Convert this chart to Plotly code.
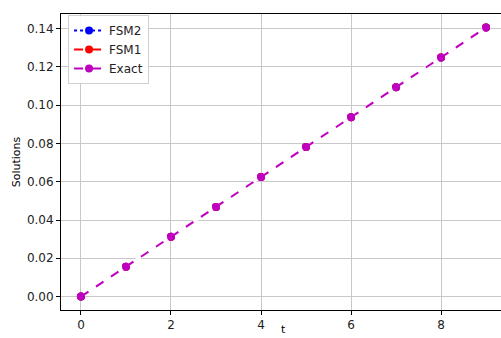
import plotly.graph_objects as go

t = [0, 1, 2, 3, 4, 5, 6, 7, 8, 9]
fsm2 = [0.0, 0.015625, 0.03125, 0.046875, 0.0625, 0.078125, 0.09375, 0.109375, 0.125, 0.140625]
fsm1 = [0.0, 0.015625, 0.03125, 0.046875, 0.0625, 0.078125, 0.09375, 0.109375, 0.125, 0.140625]
exact = [0.0, 0.015625, 0.03125, 0.046875, 0.0625, 0.078125, 0.09375, 0.109375, 0.125, 0.140625]

MAG = "#bf00bf"

fig = go.Figure()
fig.add_trace(go.Scatter(x=t, y=fsm2, name="FSM2", mode="lines+markers",
                         line=dict(color="blue", dash="dot", width=2),
                         marker=dict(color="blue", size=8)))
fig.add_trace(go.Scatter(x=t, y=fsm1, name="FSM1", mode="lines+markers",
                         line=dict(color="red", dash="dash", width=2),
                         marker=dict(color="red", size=8)))
# white underlay so the lower series do not show through the dash gaps
fig.add_trace(go.Scatter(x=t, y=exact, mode="lines", showlegend=False, hoverinfo="skip",
                         line=dict(color="white", width=3)))
fig.add_trace(go.Scatter(x=t, y=exact, name="Exact", mode="lines+markers",
                         line=dict(color=MAG, dash="dash", width=2),
                         marker=dict(color=MAG, size=8)))

fig.update_layout(
    width=501, height=338,
    margin=dict(l=61, r=0, t=14, b=0),
    plot_bgcolor="white", paper_bgcolor="white",
    font=dict(family="DejaVu Sans", size=12, color="#222"),
    showlegend=True,
    legend=dict(x=0.016, y=0.997, xanchor="left", yanchor="top",
                bgcolor="rgba(255,255,255,0.9)", bordercolor="#d0d0d0", borderwidth=1,
                font=dict(size=12), tracegroupgap=0, itemwidth=30),
    xaxis=dict(range=[-0.444, 9.333], tickvals=[0, 2, 4, 6, 8],
               showgrid=True, gridcolor="#c8c8c8", gridwidth=1,
               showline=True, linecolor="black", linewidth=1, mirror=True,
               ticks="outside", ticklen=4, tickcolor="black",
               zeroline=False, automargin=False),
    yaxis=dict(range=[-0.00703, 0.1477], tickvals=[0, 0.02, 0.04, 0.06, 0.08, 0.10, 0.12, 0.14],
               tickformat=".2f", domain=[28 / 324, 1],
               showgrid=True, gridcolor="#c8c8c8", gridwidth=1,
               showline=True, linecolor="black", linewidth=1, mirror=False,
               ticks="outside", ticklen=4, tickcolor="black",
               zeroline=False, automargin=False,
               title=dict(text="Solutions", standoff=4, font=dict(size=11, color="#000"))),
    annotations=[dict(text="t", xref="x", x=4.5, yref="paper", y=0.0,
                      xanchor="center", yanchor="bottom", showarrow=False,
                      font=dict(family="DejaVu Sans", size=11, color="#000"))],
)

fig.write_html("out.html", config={"displayModeBar": False},
               post_script="document.body.style.margin='0';document.body.style.overflow='hidden';")
